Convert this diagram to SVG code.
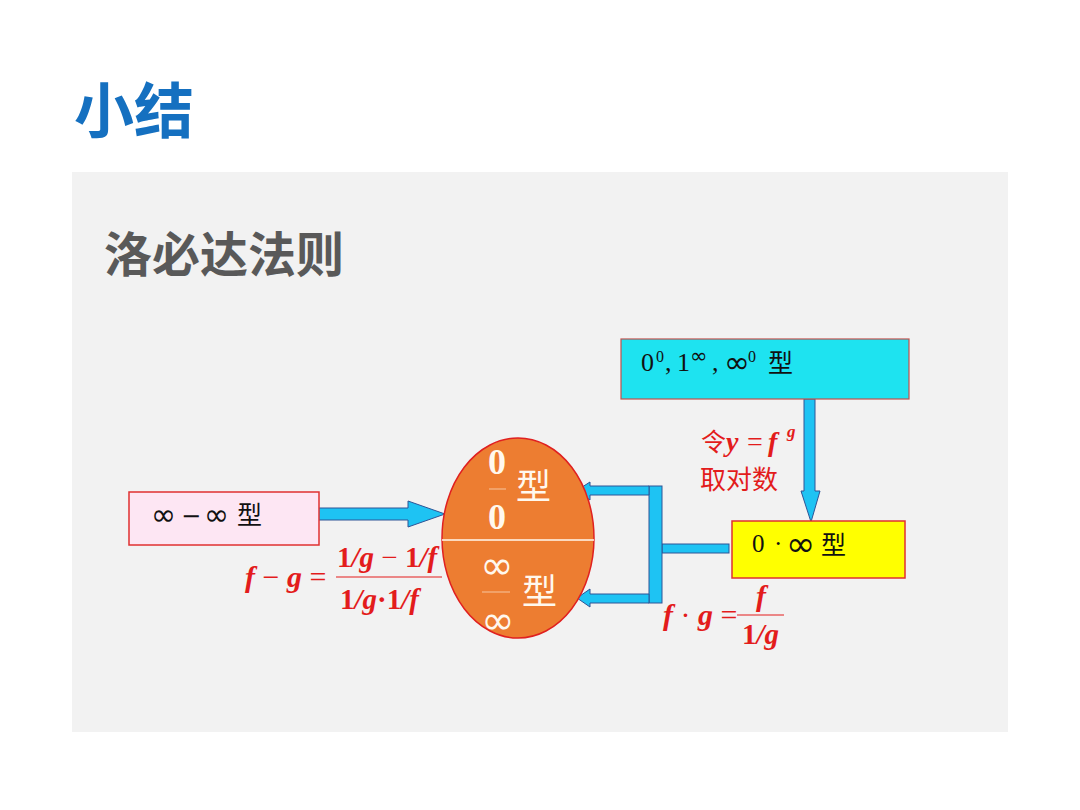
<svg xmlns="http://www.w3.org/2000/svg" width="1080" height="810" viewBox="0 0 1080 810">
<style>
.cjk{font-family:"Noto Sans CJK SC","Noto Sans",sans-serif}
.ser{font-family:"Liberation Serif","Noto Sans CJK SC",serif}
.inf{font-family:"DejaVu Sans",sans-serif}
.math{font-family:"Liberation Serif","Times New Roman",serif;font-weight:bold;font-style:italic;fill:#e31c1c}
.up{font-style:normal}
.thin{font-style:normal;font-weight:normal}
.red{fill:#e31c1c}
.arr{fill:#1ec3f3;stroke:#2f5496;stroke-width:1}
.wt{fill:#fff8ee}
.blk{fill:#111}
</style>
<rect x="0" y="0" width="1080" height="810" fill="#ffffff"/>
<text x="74" y="133" class="cjk" font-size="60" font-weight="bold" fill="#1570c0">小结</text>
<rect x="72" y="172" width="936" height="560" fill="#f2f2f2"/>
<text x="104" y="272" class="cjk" font-size="48" font-weight="bold" fill="#595959">洛必达法则</text>

<g id="connectors">
<polygon class="arr" points="305,508 408,508 408,501 445,514 408,527 408,520 305,520"/>
<polygon class="arr" points="804,399 815,399 815,491 820,491 811,522 801,491 804,491"/>
<rect class="arr" x="662" y="544" width="67" height="9"/>
<rect class="arr" x="649" y="486" width="13" height="117"/>
<polygon class="arr" points="649,486 649,495 590,495 590,500 576,491 590,482 590,486"/>
<polygon class="arr" points="649,594 649,603 590,603 590,607 577,598 590,589 590,594"/>
</g>

<g id="node-top">
<rect x="621" y="339" width="288" height="60" fill="#1ee3f0" stroke="#c0504d" stroke-width="1.2"/>
<text x="641" y="371" class="ser blk" font-size="26">0</text>
<text x="656" y="362" class="ser blk" font-size="16">0</text>
<text x="665" y="371" class="ser blk" font-size="26">,</text>
<text x="677" y="371" class="ser blk" font-size="26">1</text>
<text x="690" y="363" class="inf blk" font-size="21">∞</text>
<text x="712" y="371" class="ser blk" font-size="26">,</text>
<text x="724" y="373" class="inf blk" font-size="31">∞</text>
<text x="748" y="362" class="ser blk" font-size="16">0</text>
<text x="768" y="372" class="cjk blk" font-size="25">型</text>
</g>

<g id="label-log">
<text x="701" y="451" class="red cjk" font-size="25">令</text>
<text x="726" y="451" class="math" font-size="28">y</text>
<text x="747" y="451" class="math thin" font-size="28">=</text>
<text x="768" y="451" class="math" font-size="28">f</text>
<text x="787" y="437" class="math" font-size="17">g</text>
<text x="700" y="489" class="red cjk" font-size="26">取对数</text>
</g>

<g id="node-yellow">
<rect x="732" y="521" width="173" height="57" fill="#ffff00" stroke="#e03030" stroke-width="1.5"/>
<text x="752" y="552" class="ser blk" font-size="25">0</text>
<text x="774" y="552" class="ser blk" font-size="25">·</text>
<text x="786" y="556" class="inf blk" font-size="35">∞</text>
<text x="821" y="554" class="cjk blk" font-size="25">型</text>
</g>

<g id="node-left">
<rect x="129" y="492" width="190" height="53" fill="#fde6f3" stroke="#e03030" stroke-width="1.5"/>
<text x="151" y="525" class="inf blk" font-size="30">∞</text>
<text x="181" y="524" class="inf blk" font-size="24">−</text>
<text x="204" y="525" class="inf blk" font-size="30">∞</text>
<text x="237" y="524" class="cjk blk" font-size="25">型</text>
</g>

<g id="formula-left">
<text x="245" y="587" class="math" font-size="30">f<tspan class="thin"> − </tspan>g<tspan class="thin"> = </tspan></text>
<text x="337" y="567" class="math" font-size="29"><tspan class="up">1</tspan>/g<tspan class="thin"> − </tspan><tspan class="up">1</tspan>/f</text>
<line x1="336" y1="577" x2="442" y2="577" stroke="#e31c1c" stroke-width="1.2"/>
<text x="340" y="609" class="math" font-size="29"><tspan class="up">1</tspan>/g<tspan class="up">·1</tspan>/f</text>
</g>

<g id="formula-right">
<text x="663" y="625" class="math" font-size="30">f<tspan class="thin"> · </tspan>g<tspan class="thin"> = </tspan></text>
<text x="756" y="606" class="math" font-size="30">f</text>
<line x1="737" y1="615" x2="784" y2="615" stroke="#e31c1c" stroke-width="1.2"/>
<text x="742" y="644" class="math" font-size="29"><tspan class="up">1</tspan>/g</text>
</g>

<g id="node-ellipse">
<ellipse cx="518" cy="538" rx="76" ry="100" fill="#ed7d31" stroke="#e02020" stroke-width="1.5"/>
<line x1="442" y1="540" x2="594" y2="540" stroke="#fff8ee" stroke-width="1.5"/>
<text x="497" y="474" class="wt ser" font-size="36" font-weight="bold" text-anchor="middle">0</text>
<line x1="489" y1="489" x2="506" y2="489" stroke="#f6c6a0" stroke-width="1"/>
<text x="497" y="529" class="wt ser" font-size="36" font-weight="bold" text-anchor="middle">0</text>
<text x="516" y="499" class="wt cjk" font-size="35">型</text>
<text x="497" y="579" class="wt inf" font-size="40" text-anchor="middle">∞</text>
<line x1="482" y1="592" x2="510" y2="592" stroke="#f6c6a0" stroke-width="1"/>
<text x="498" y="634" class="wt inf" font-size="40" text-anchor="middle">∞</text>
<text x="522" y="604" class="wt cjk" font-size="35">型</text>
</g>
</svg>
